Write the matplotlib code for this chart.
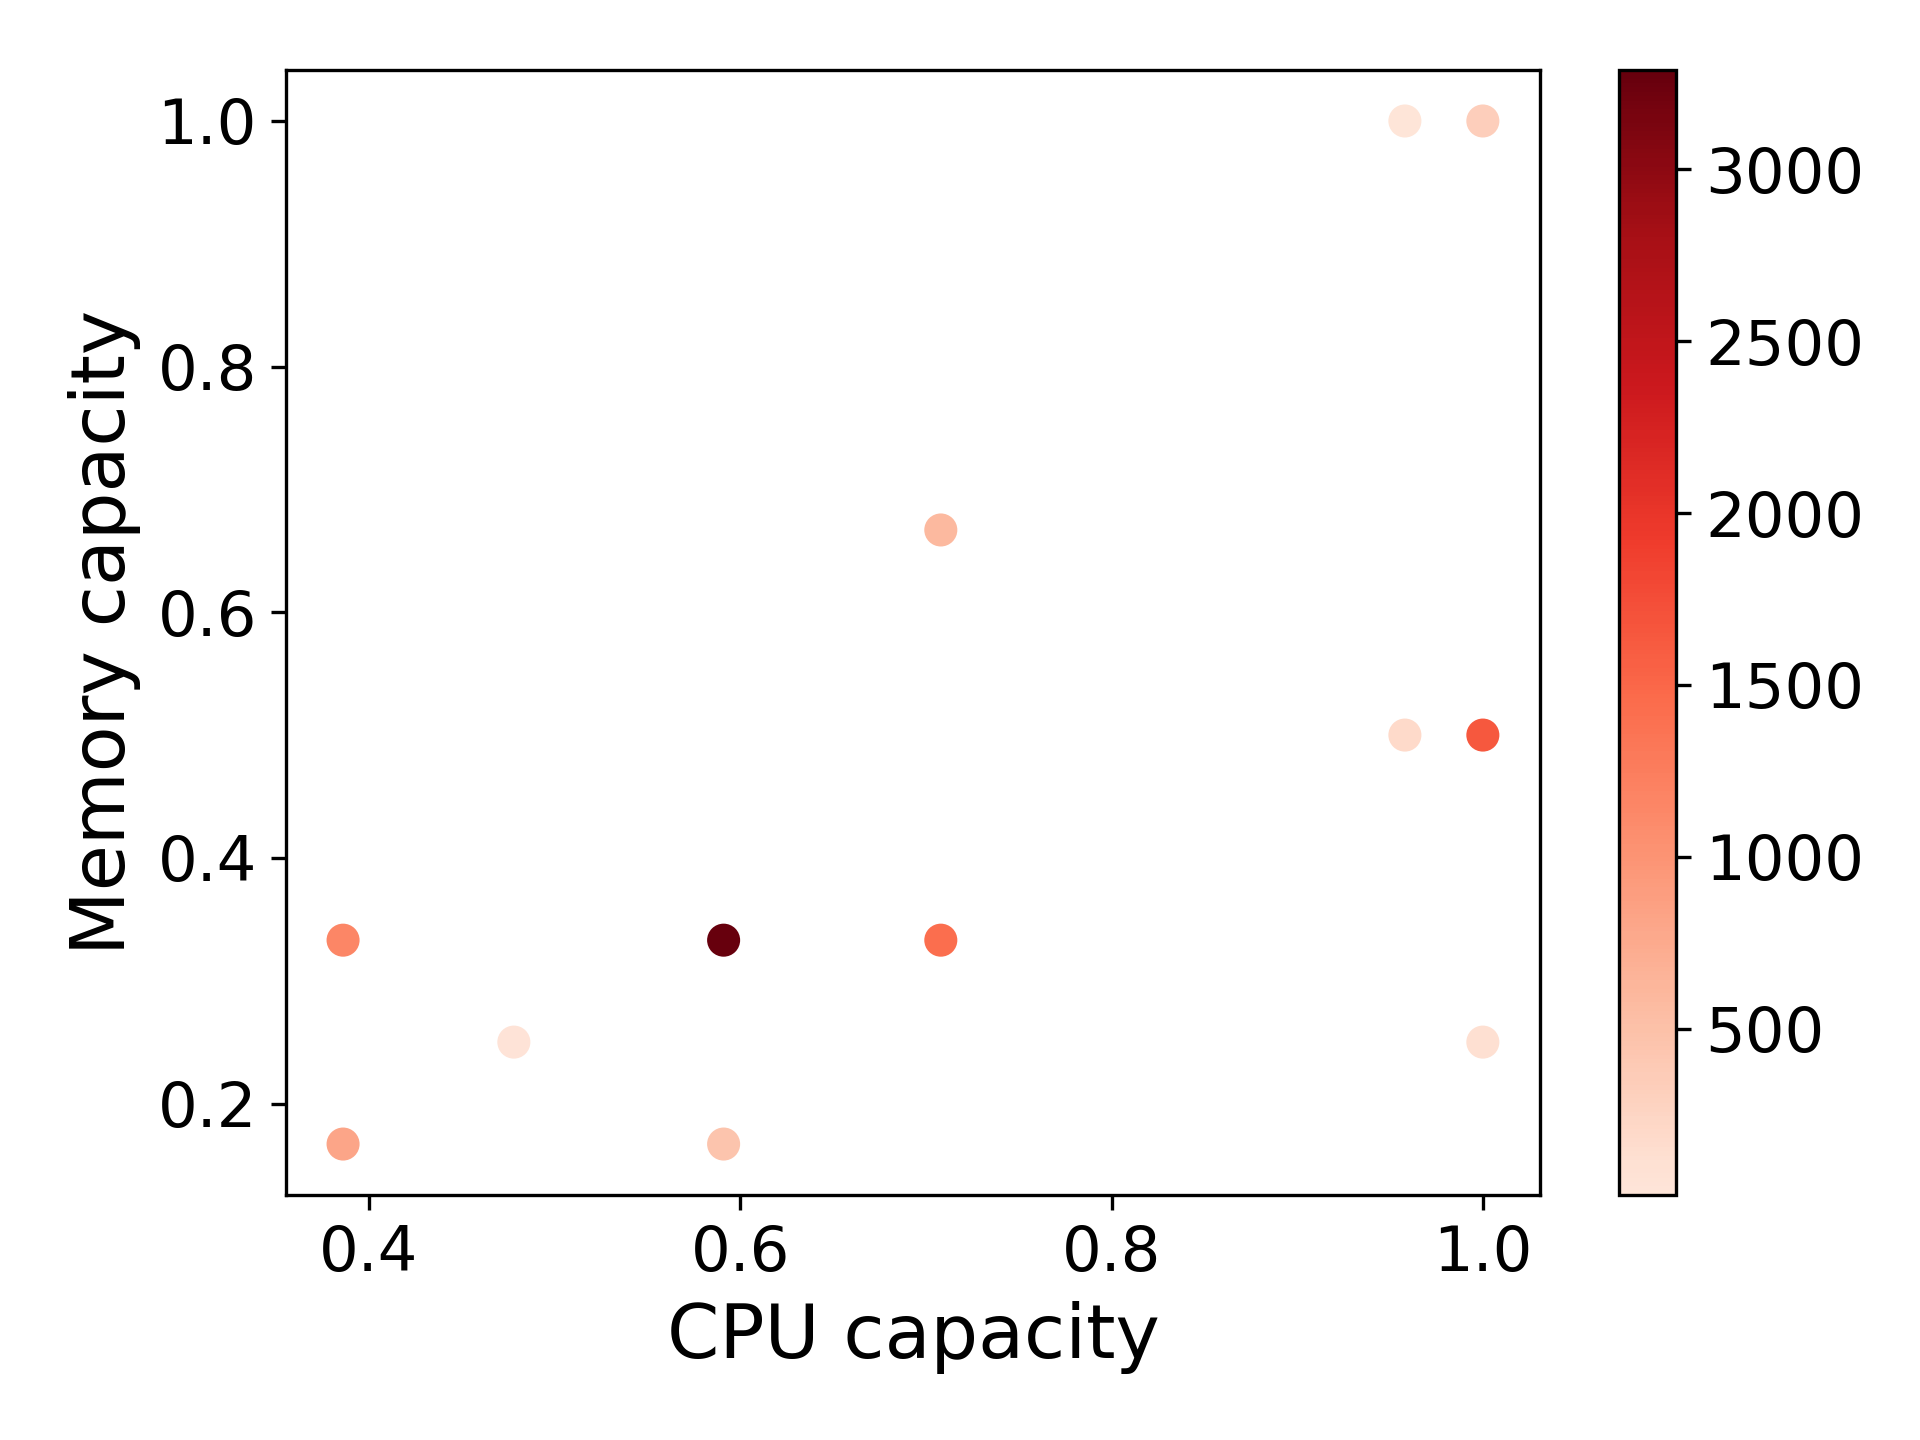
import matplotlib
matplotlib.use("Agg")
import matplotlib.pyplot as plt
import numpy as np
from matplotlib.colors import ListedColormap

# CPU capacity, memory capacity and the value shown by colour
cpu = [0.958, 1.0, 0.708, 0.958, 1.0, 0.386, 0.591, 0.708, 0.478, 1.0, 0.386, 0.591]
memory = [1.0, 1.0, 0.667, 0.5, 0.5, 0.333, 0.333, 0.333, 0.25, 0.25, 0.167, 0.167]
value = [15, 330, 580, 190, 1650, 1150, 3290, 1420, 50, 120, 820, 450]

def main():
    # Reds without its near-white start
    cmap = ListedColormap(plt.get_cmap("Reds")(np.linspace(0.1, 1.0, 256)))

    fig = plt.figure(figsize=(6.4, 4.8), dpi=300)
    ax = fig.add_axes([0.149, 0.170, 0.653, 0.7815])
    cax = fig.add_axes([0.843, 0.170, 0.030, 0.7815])

    sc = ax.scatter(cpu, memory, c=value, cmap=cmap, s=48)
    cb = fig.colorbar(sc, cax=cax)
    cb.ax.tick_params(labelsize=15)

    ax.set_xticks([0.4, 0.6, 0.8, 1.0])
    ax.set_yticks([0.2, 0.4, 0.6, 0.8, 1.0])
    ax.tick_params(labelsize=15)
    ax.set_xlabel("CPU capacity", fontsize=18)
    ax.set_ylabel("Memory capacity", fontsize=18)

    fig.savefig("out.png", dpi=300)

if __name__ == "__main__":
    main()
